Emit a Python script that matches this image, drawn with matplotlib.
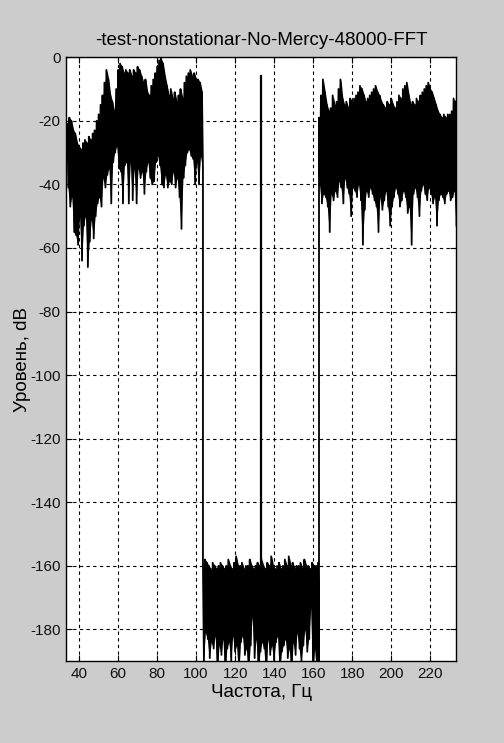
import numpy as np
import matplotlib
matplotlib.use("Agg")
import matplotlib.pyplot as plt

plt.rcParams['font.family'] = ['Liberation Sans', 'DejaVu Sans']
plt.rcParams['axes.unicode_minus'] = False

# spectrum: upper / lower edge of the dense trace, 1 Hz step
low_band_start = 34
low_band_hi = [-21, -19, -20, -23, -24, -27, -28, -29, -27, -26, -27, -25, -26, -24, -23, -20,
               -18, -15, -12, -8, -4, -7, -12, -14, -17, -10, -4, -2, -3, -5, -4, -5, -4, -6,
               -4, -5, -3, -4, -6, -8, -7, -11, -12, -9, -7, -5, -3, -1, -0.5, -2, -6, -9,
               -12, -10, -13, -11, -14, -12, -10, -13, -8, -6, -5, -4, -6, -5, -7, -7, -8, -11]
low_band_lo = [-41, -47, -44, -55, -56, -59, -50, -64, -53, -50, -66, -58, -51, -57, -50, -46,
               -44, -47, -38, -41, -37, -35, -46, -33, -30, -28, -35, -36, -46, -34, -33, -46,
               -33, -45, -35, -46, -35, -38, -36, -43, -36, -33, -38, -40, -39, -33, -31, -34,
               -40, -41, -37, -41, -39, -40, -36, -41, -38, -44, -54, -38, -34, -30, -29, -31,
               -32, -40, -33, -40, -31, -35]

mid_band_start = 103.5
mid_band_hi = [-160, -158, -159, -160, -161, -159, -160, -161, -160, -159, -160, -161, -160, -158,
               -160, -161, -159, -157, -160, -160, -159, -161, -160, -160, -158, -160, -161, -160,
               -159, -160, -158, -160, -161, -159, -160, -157, -160, -161, -160, -159, -161, -160,
               -158, -160, -157, -160, -159, -161, -160, -160, -159, -161, -158, -160, -160, -161,
               -159, -160, -160, -159]
mid_band_lo = [-190, -181, -183, -189, -184, -186, -182, -195, -185, -188, -183, -195, -186, -184,
               -190, -182, -187, -185, -195, -184, -182, -188, -186, -195, -185, -176, -189, -183,
               -195, -187, -184, -186, -195, -183, -188, -185, -190, -184, -182, -195, -187, -185,
               -183, -189, -186, -195, -184, -188, -181, -186, -190, -185, -180, -187, -183, -173,
               -195, -186, -195, -195]

high_band_start = 163
high_band_hi = [-19, -12, -7, -11, -15, -17, -16, -12, -15, -14, -10, -7, -13, -15, -14, -16, -13,
                -14, -13, -12, -11, -9, -10, -12, -14, -13, -12, -11, -10, -9, -11, -12, -14, -15,
                -16, -14, -15, -13, -15, -16, -14, -12, -13, -10, -9, -8, -12, -15, -14, -15, -13,
                -14, -12, -11, -10, -9, -8, -10, -11, -13, -15, -17, -18, -19, -18, -19, -18, -18,
                -17, -13, -14]
high_band_lo = [-40, -46, -43, -44, -47, -55, -43, -45, -42, -44, -39, -41, -46, -38, -41, -43, -50,
                -41, -42, -44, -40, -45, -59, -48, -42, -44, -41, -43, -45, -47, -55, -44, -48, -45,
                -42, -47, -53, -47, -44, -41, -43, -47, -45, -42, -44, -49, -47, -59, -43, -41, -44,
                -50, -42, -40, -43, -45, -41, -43, -46, -44, -53, -45, -43, -44, -46, -43, -42, -45,
                -44, -42, -53]

tone_freq = [133.3, 133.3]
tone_db = [-170, -6]

bands = [(low_band_start, low_band_hi, low_band_lo),
         (mid_band_start, mid_band_hi, mid_band_lo),
         (high_band_start, high_band_hi, high_band_lo)]

fig = plt.figure(figsize=(5.04, 7.43), dpi=100)
fig.patch.set_facecolor('#cccccc')
ax = fig.add_axes([0.131, 0.110, 0.774, 0.813])

xs, ys = [], []
for start, hi, lo in bands:
    f = start + np.arange(len(hi))
    # solid body of the dense trace
    ax.fill_between(f + 0.25, hi, lo, color='k', linewidth=0)
    xs.append(np.column_stack([f, f + 0.5]).ravel())
    ys.append(np.column_stack([hi, lo]).ravel())
freq = np.concatenate(xs)
level = np.concatenate(ys)

ax.plot(freq, level, color='k', linewidth=1.3)
ax.plot(tone_freq, tone_db, color='k', linewidth=1.6)

ax.set_xlim(33.3, 233.3)
ax.set_ylim(-190, 0)
ax.set_xticks(np.arange(40, 221, 20))
ax.set_yticks(np.arange(-180, 1, 20))
ax.tick_params(direction='in', top=True, right=True, labelsize=11, length=4, pad=4,
               labelcolor='#111111')
ax.grid(True, color='k', linestyle=(0, (3, 3)), linewidth=0.8)
for s in ax.spines.values():
    s.set_linewidth(1.0)

ax.set_title('-test-nonstationar-No-Mercy-48000-FFT', fontsize=13.5, pad=9)
ax.set_xlabel('Частота, Гц', fontsize=13.5, labelpad=2)
ax.set_ylabel('Уровень, dB', fontsize=13.5)
ax.yaxis.set_label_coords(-0.09, 0.5)

fig.savefig('out.png', dpi=100, facecolor=fig.get_facecolor())
